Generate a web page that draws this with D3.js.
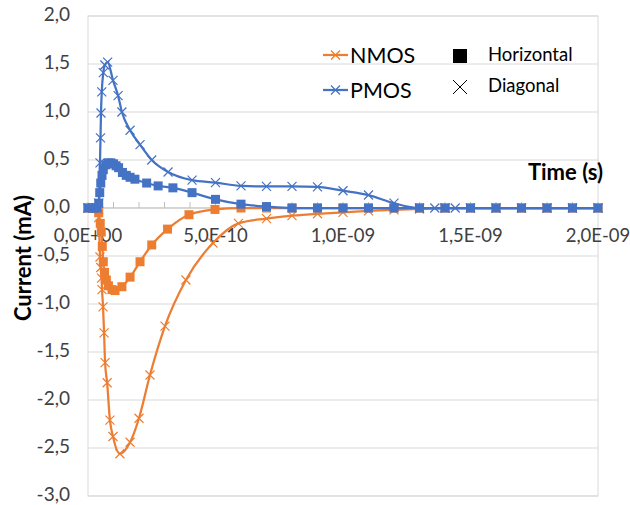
<!DOCTYPE html>
<html>
<head>
<meta charset="utf-8">
<script src="https://cdn.jsdelivr.net/npm/d3@7"></script>
<style>
  body { margin: 0; background: #fff; }
  svg { font-family: Lato, "Open Sans", sans-serif; }
</style>
</head>
<body>
<div id="chart-area"></div>
<script>
// time values are in units of 1e-10 s, current in mA

// NMOS, diagonal (x markers)
const nmosDiagT = [0, 0.2, 0.35, 0.42, 0.47, 0.5, 0.53, 0.55, 0.59, 0.63, 0.67, 0.75, 0.86, 0.98, 1.25, 1.65, 2.0, 2.43, 3.02, 3.84, 4.9, 5.9, 7, 8, 9, 10, 11, 12, 13, 14, 15, 16, 17, 18, 19, 20];
const nmosDiagI = [0, 0, 0, -0.1, -0.51, -0.62, -0.73, -0.85, -1.03, -1.3, -1.61, -1.82, -2.21, -2.38, -2.56, -2.44, -2.19, -1.74, -1.23, -0.75, -0.365, -0.16, -0.11, -0.08, -0.06, -0.045, -0.03, -0.02, -0.01, 0, 0, 0, 0, 0, 0, 0];

// NMOS, horizontal (square markers)
const nmosHorT = [0, 0.2, 0.35, 0.42, 0.48, 0.52, 0.56, 0.6, 0.65, 0.72, 0.8, 0.94, 1.06, 1.33, 1.65, 2.04, 2.5, 3.12, 3.96, 4.98, 6, 7, 8, 9, 10, 11, 12, 13, 14, 15, 16, 17, 18, 19, 20];
const nmosHorI = [0, 0, 0, -0.05, -0.16, -0.25, -0.4, -0.56, -0.67, -0.75, -0.81, -0.85, -0.86, -0.82, -0.72, -0.56, -0.385, -0.22, -0.07, -0.015, 0, 0, 0, 0, 0, 0, 0, 0, 0, 0, 0, 0, 0, 0, 0];

// PMOS, diagonal (x markers)
const pmosDiagT = [0, 0.2, 0.35, 0.42, 0.47, 0.49, 0.51, 0.54, 0.6, 0.66, 0.77, 0.98, 1.18, 1.33, 1.65, 2.04, 2.5, 3.14, 4.08, 5, 6, 7, 8, 9, 10, 11, 12, 13, 13.6, 14, 14.4, 15, 16, 17, 18, 19, 20];
const pmosDiagI = [0, 0, 0, 0.05, 0.47, 0.73, 0.99, 1.21, 1.41, 1.49, 1.52, 1.33, 1.17, 1.0, 0.81, 0.66, 0.5, 0.375, 0.29, 0.265, 0.23, 0.225, 0.225, 0.22, 0.18, 0.135, 0.05, 0, 0, 0, 0, 0, 0, 0, 0, 0, 0];

// PMOS, horizontal (square markers)
const pmosHorT = [0, 0.2, 0.35, 0.42, 0.46, 0.5, 0.55, 0.6, 0.7, 0.8, 0.9, 1.0, 1.1, 1.2, 1.35, 1.5, 1.65, 1.84, 2.3, 2.75, 3.33, 4.08, 5, 6, 7, 8, 9, 10, 11, 12, 13, 14, 15, 16, 17, 18, 19, 20];
const pmosHorI = [0, 0, 0, 0.05, 0.16, 0.26, 0.34, 0.4, 0.45, 0.47, 0.47, 0.46, 0.44, 0.42, 0.37, 0.34, 0.32, 0.3, 0.26, 0.23, 0.21, 0.16, 0.09, 0.04, 0.015, 0, 0, 0, 0, 0, 0, 0, 0, 0, 0, 0, 0, 0];

const yTicks = [2, 1.5, 1, 0.5, 0, -0.5, -1, -1.5, -2, -2.5, -3];
const xTicks = [0, 5, 10, 15, 20];
const xTickLabels = ["0,0E+00", "5,0E-10", "1,0E-09", "1,5E-09", "2,0E-09"];
const xMinorTicks = d3.range(0, 21);

const width = 630, height = 505;
const plot = { left: 88, right: 598, top: 16, bottom: 496 };

const orange = "#ED7D31", blue = "#4472C4";

const svg = d3.select("#chart-area").append("svg")
  .attr("width", width)
  .attr("height", height);

const x = d3.scaleLinear().domain([0, 20]).range([plot.left, plot.right]);
const y = d3.scaleLinear().domain([-3, 2]).range([plot.bottom, plot.top]);

// gridlines
svg.append("g").selectAll("line")
  .data(yTicks)
  .enter().append("line")
  .attr("x1", plot.left).attr("x2", plot.right)
  .attr("y1", d => y(d)).attr("y2", d => y(d))
  .attr("stroke", "#d9d9d9").attr("stroke-width", 1);

// plot border
svg.append("rect")
  .attr("x", plot.left).attr("y", plot.top)
  .attr("width", plot.right - plot.left).attr("height", plot.bottom - plot.top)
  .attr("fill", "none").attr("stroke", "#d9d9d9");

// x axis at y = 0
svg.append("line")
  .attr("x1", plot.left).attr("x2", plot.right)
  .attr("y1", y(0)).attr("y2", y(0))
  .attr("stroke", "#bfbfbf").attr("stroke-width", 1);

svg.append("g").selectAll("line")
  .data(xMinorTicks)
  .enter().append("line")
  .attr("x1", d => x(d)).attr("x2", d => x(d))
  .attr("y1", y(0)).attr("y2", y(0) - 6)
  .attr("stroke", "#bfbfbf");

// y labels
svg.append("g").selectAll("text")
  .data(yTicks)
  .enter().append("text")
  .attr("x", 70)
  .attr("y", d => y(d) - 2)
  .attr("dy", "0.35em")
  .attr("text-anchor", "end")
  .attr("font-size", 19)
  .attr("fill", "#404040")
  .text(d => d3.format(".1f")(d).replace(".", ",").replace("−", "-"));

// x labels
svg.append("g").selectAll("text")
  .data(xTicks)
  .enter().append("text")
  .attr("x", d => x(d))
  .attr("y", 242)
  .attr("text-anchor", "middle")
  .attr("font-size", 18.5)
  .attr("fill", "#404040")
  .text((d, i) => xTickLabels[i]);

// axis titles
svg.append("text")
  .attr("transform", "translate(31," + 258 + ") rotate(-90)")
  .attr("text-anchor", "middle")
  .attr("font-size", 22)
  .attr("font-weight", "bold")
  .text("Current (mA)");

svg.append("text")
  .attr("x", 603).attr("y", 180)
  .attr("text-anchor", "end")
  .attr("font-size", 22)
  .attr("font-weight", "bold")
  .text("Time (s)");

const line = d3.line()
  .x(d => x(d[0]))
  .y(d => y(d[1]))
  .curve(d3.curveMonotoneX);

function crossPath(cx, cy, s) {
  return "M" + (cx - s) + "," + (cy - s) + "L" + (cx + s) + "," + (cy + s) +
    "M" + (cx - s) + "," + (cy + s) + "L" + (cx + s) + "," + (cy - s);
}

function drawSeries(ts, is, color, marker) {
  const pts = ts.map((t, i) => [t, is[i]]);
  const g = svg.append("g");
  g.append("path")
    .attr("d", line(pts))
    .attr("fill", "none")
    .attr("stroke", color)
    .attr("stroke-width", 2.25);
  if (marker === "square") {
    g.selectAll("rect").data(pts).enter().append("rect")
      .attr("x", d => x(d[0]) - 4.5).attr("y", d => y(d[1]) - 4.5)
      .attr("width", 9).attr("height", 9)
      .attr("fill", color);
  } else {
    g.selectAll("path.m").data(pts).enter().append("path")
      .attr("class", "m")
      .attr("d", d => crossPath(x(d[0]), y(d[1]), 4.5))
      .attr("stroke", color).attr("stroke-width", 1.2)
      .attr("fill", "none");
  }
}

drawSeries(nmosDiagT, nmosDiagI, orange, "cross");
drawSeries(nmosHorT, nmosHorI, orange, "square");
drawSeries(pmosDiagT, pmosDiagI, blue, "cross");
drawSeries(pmosHorT, pmosHorI, blue, "square");

// legend
const legendSeries = [
  { name: "NMOS", color: orange, y: 55 },
  { name: "PMOS", color: blue, y: 90 }
];
legendSeries.forEach(function (s) {
  const row = svg.append("g");
  row.append("line")
    .attr("x1", 323).attr("x2", 348)
    .attr("y1", s.y).attr("y2", s.y)
    .attr("stroke", s.color).attr("stroke-width", 2.25);
  row.append("path")
    .attr("d", crossPath(335.5, s.y, 4.5))
    .attr("stroke", s.color).attr("stroke-width", 1.2);
  row.append("text")
    .attr("x", 350).attr("y", s.y)
    .attr("dy", "0.35em")
    .attr("font-size", 21.5)
    .text(s.name);
});

const markerLegend = [
  { name: "Horizontal", y: 56, type: "square" },
  { name: "Diagonal", y: 87, type: "cross" }
];
markerLegend.forEach(function (m) {
  const row = svg.append("g");
  if (m.type === "square") {
    row.append("rect")
      .attr("x", 453).attr("y", m.y - 7)
      .attr("width", 14).attr("height", 14)
      .attr("fill", "#000");
  } else {
    row.append("path")
      .attr("d", crossPath(460, m.y, 7))
      .attr("stroke", "#000").attr("stroke-width", 1);
  }
  row.append("text")
    .attr("x", 488).attr("y", m.y - 1)
    .attr("dy", "0.35em")
    .attr("font-size", 18.5)
    .text(m.name);
});
</script>
</body>
</html>
